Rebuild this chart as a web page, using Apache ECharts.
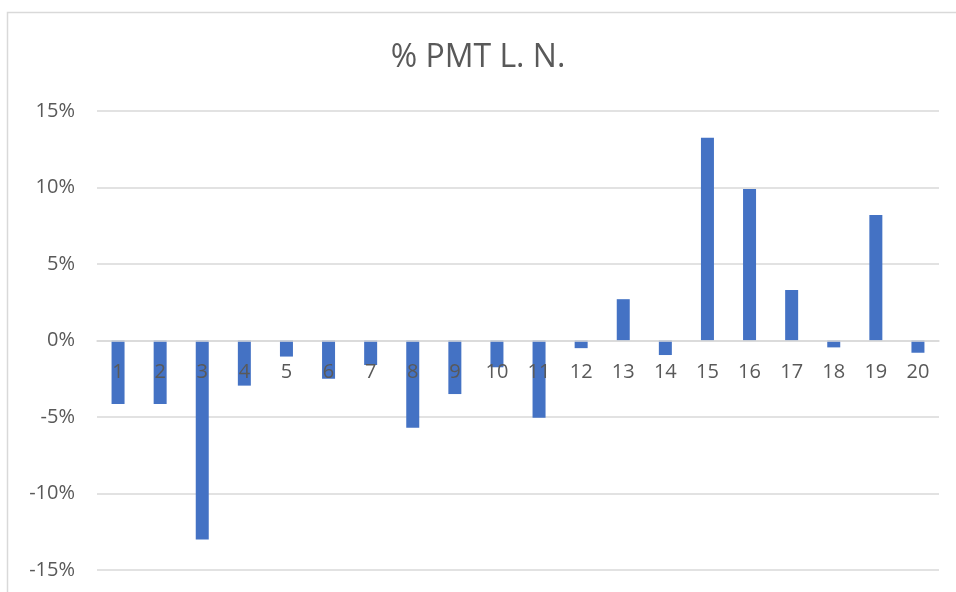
<!DOCTYPE html>
<html>
<head>
<meta charset="utf-8">
<script src="https://cdn.jsdelivr.net/npm/echarts@6/dist/echarts.min.js"></script>
<style>
  html, body { margin: 0; padding: 0; background: #fff; }
  #chart { width: 956px; height: 592px; }
</style>
</head>
<body>
<div id="chart"></div>
<script>
// categorías 1..20
const categories = ['1', '2', '3', '4', '5', '6', '7', '8', '9', '10',
  '11', '12', '13', '14', '15', '16', '17', '18', '19', '20'];
// % PMT L. N. (en %)
const pmtValues = [-4.15, -4.15, -13.0, -2.95, -1.05, -2.5, -1.6, -5.7, -3.5, -1.75,
  -5.05, -0.5, 2.7, -0.95, 13.25, 9.9, 3.3, -0.45, 8.2, -0.8];
const yTicks = [-15, -10, -5, 0, 5, 10, 15];

const chart = echarts.init(document.getElementById('chart'));
const font = 'Open Sans, Liberation Sans, sans-serif';

// altura del área de trazado y desplazamiento del eje X hasta el 0%
const gridTop = 111, gridBottom = 22;
const plotH = 592 - gridTop - gridBottom;
const zeroOffset = -plotH * (0 - yTicks[0]) / (yTicks[yTicks.length - 1] - yTicks[0]);

chart.setOption({
  animation: false,
  backgroundColor: '#fff',
  graphic: [{
    type: 'rect',
    shape: { x: 7.5, y: 12.5, width: 1000, height: 700 },
    style: { fill: 'none', stroke: '#d9d9d9', lineWidth: 1.5 },
    silent: true
  }],
  title: {
    text: '% PMT L. N.',
    left: 'center',
    top: 37,
    textStyle: { fontFamily: font, fontSize: 32, fontWeight: 'normal', color: '#595959' }
  },
  grid: { left: 97, right: 17, top: gridTop, bottom: gridBottom, outerBoundsMode: 'none', containLabel: false },
  xAxis: {
    type: 'category',
    data: categories,
    position: 'bottom',
    offset: zeroOffset,
    z: 10,
    axisLine: { show: true, onZero: false, lineStyle: { color: '#d9d9d9', width: 1.5 } },
    axisTick: { show: false },
    axisLabel: { margin: 22, fontFamily: font, fontSize: 20, color: '#595959' }
  },
  yAxis: {
    type: 'value',
    min: yTicks[0],
    max: yTicks[yTicks.length - 1],
    interval: 5,
    axisLine: { show: false },
    axisTick: { show: false },
    splitLine: { lineStyle: { color: '#d9d9d9', width: 1.5 } },
    axisLabel: { margin: 22, fontFamily: font, fontSize: 20, color: '#595959', formatter: '{value}%' }
  },
  series: [{
    name: '% PMT L. N.',
    type: 'bar',
    data: pmtValues,
    barWidth: 13,
    itemStyle: { color: '#4472c4' }
  }]
});
</script>
</body>
</html>
